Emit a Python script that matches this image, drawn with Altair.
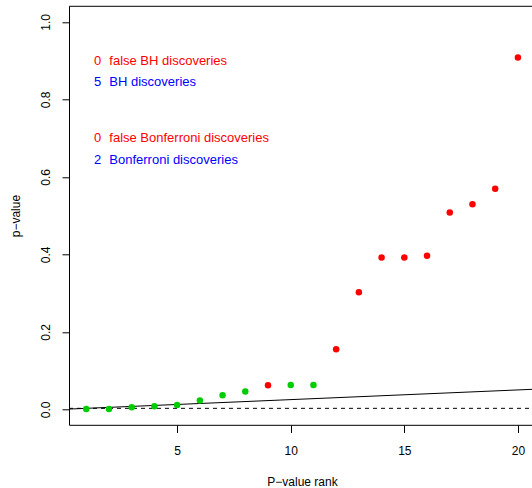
import altair as alt
import pandas as pd

# Sorted p-values of 20 tests, with whether each test's null hypothesis is true
rank = list(range(1, 21))
p_value = [0.0005, 0.001, 0.005, 0.008, 0.011, 0.023, 0.036, 0.046, 0.062, 0.063,
           0.063, 0.155, 0.302, 0.392, 0.392, 0.396, 0.508, 0.529, 0.569, 0.908]
null_true = [False, False, False, False, False, False, False, False, True, False,
             False, True, True, True, True, True, True, True, True, True]

alpha = 0.05
m = len(rank)

# Summary counts shown in the corner
summary_counts = ["0", "5", "0", "2"]
summary_labels = ["false BH discoveries", "BH discoveries",
                  "false Bonferroni discoveries", "Bonferroni discoveries"]
summary_colors = ["#FF0000", "#0000FF", "#FF0000", "#0000FF"]
summary_rows = [0.90, 0.845, 0.70, 0.643]

FONT = "Liberation Sans"
X_LO, X_HI = 0.24, 20.62
Y_LO, Y_HI = -0.04, 1.04
W, H = 463, 418.5

pts = pd.DataFrame({
    "rank": rank,
    "p": p_value,
    "colour": ["#FF0000" if t else "#00CD00" for t in null_true],
})
bh = pd.DataFrame({"rank": [0, 21]})
bh["p"] = alpha * bh["rank"] / m
notes = pd.DataFrame({
    "n": summary_counts,
    "label": summary_labels,
    "colour": summary_colors,
    "y": summary_rows,
})

xs = alt.Scale(domain=[X_LO, X_HI], nice=False, zero=False)
ys = alt.Scale(domain=[Y_LO, Y_HI], nice=False, zero=False)

x_axis = alt.Axis(
    values=[5, 10, 15, 20], format="d", grid=False,
    domainColor="black", domainWidth=1, tickColor="black", tickSize=7.7, tickWidth=1,
    labelFont=FONT, labelFontSize=12, labelColor="black", labelBaseline="middle",
    labelPadding=17.5, labelFlush=False,
    title="P\u2212value rank", titleFont=FONT, titleFontSize=12, titleFontWeight="normal",
    titleColor="black", titleX=233, titleY=57, titleBaseline="middle", titleAlign="center",
)
y_axis = alt.Axis(
    values=[0, 0.2, 0.4, 0.6, 0.8, 1.0], format=".1f", grid=False,
    domainColor="black", domainWidth=1, tickColor="black", tickSize=7, tickWidth=1,
    labelFont=FONT, labelFontSize=12, labelColor="black", labelAngle=270,
    labelAlign="center", labelBaseline="middle", labelPadding=17,
    title="p\u2212value", titleFont=FONT, titleFontSize=12, titleFontWeight="normal",
    titleColor="black", titleAngle=270, titleX=-54, titleY=H / 2,
    titleBaseline="middle", titleAlign="center",
)

points = alt.Chart(pts).mark_point(filled=True, opacity=1, size=42, shape="circle").encode(
    x=alt.X("rank:Q", scale=xs, axis=x_axis),
    y=alt.Y("p:Q", scale=ys, axis=y_axis),
    color=alt.Color("colour:N", scale=None),
)

bh_line = alt.Chart(bh).mark_line(color="black", strokeWidth=1, clip=True).encode(
    x=alt.X("rank:Q", scale=xs), y=alt.Y("p:Q", scale=ys)
)

bonf_line = alt.Chart().mark_rule(color="black", strokeWidth=1, strokeDash=[4, 4]).encode(
    y=alt.datum(alpha / m, scale=ys), x=alt.value(0), x2=alt.value(W)
)

top_frame = alt.Chart().mark_rule(color="black", strokeWidth=1).encode(
    y=alt.value(0), x=alt.value(0), x2=alt.value(W)
)

counts = alt.Chart(notes).mark_text(align="left", baseline="middle", font=FONT, fontSize=13).encode(
    x=alt.value(25), y=alt.Y("y:Q", scale=ys), text="n:N",
    color=alt.Color("colour:N", scale=None),
)
labels = alt.Chart(notes).mark_text(align="left", baseline="middle", font=FONT, fontSize=13).encode(
    x=alt.value(40.3), y=alt.Y("y:Q", scale=ys), text="label:N",
    color=alt.Color("colour:N", scale=None),
)

chart = alt.layer(bonf_line, bh_line, top_frame, points, counts, labels).properties(
    width=W, height=H,
    autosize=alt.AutoSizeParams(type="none"),
    padding={"left": 69, "top": 6.3, "right": 0, "bottom": 63.2},
    background="white",
).configure_view(stroke=None)

chart.save("out.html", embed_options={"renderer": "svg", "actions": False})
